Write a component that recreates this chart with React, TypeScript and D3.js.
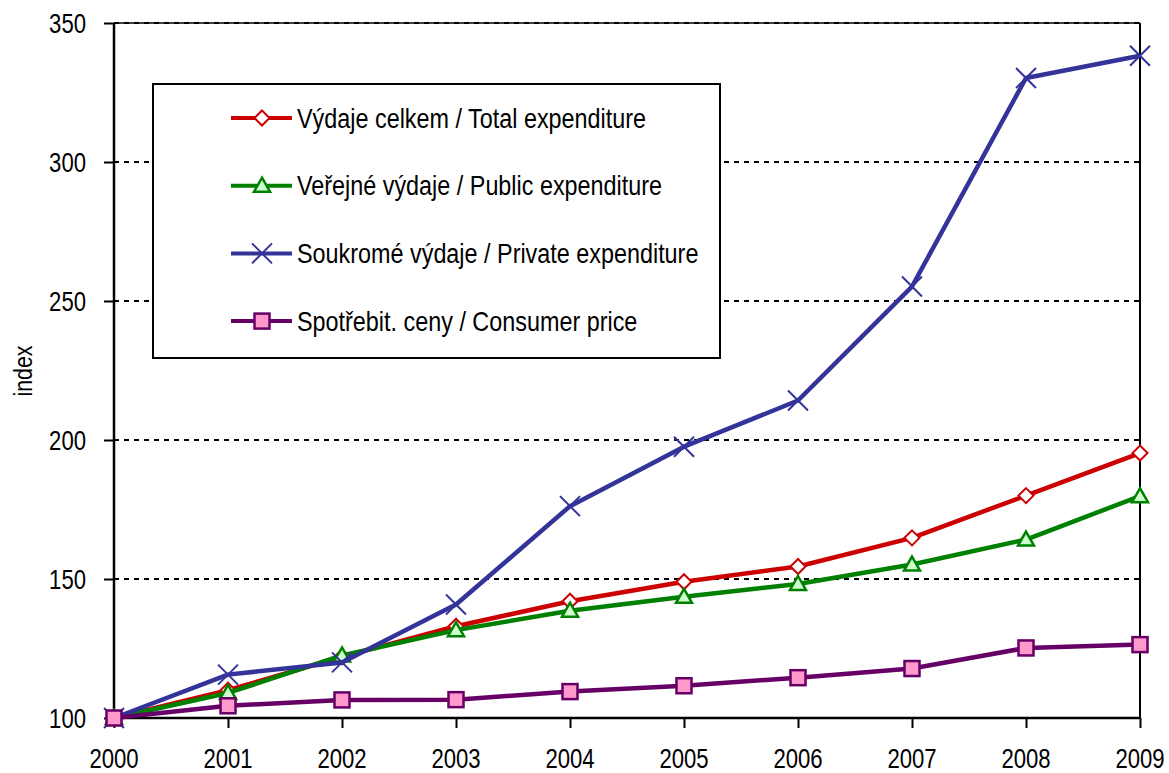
import React, { useRef, useEffect } from 'react';
import * as d3 from 'd3';

const years = ['2000', '2001', '2002', '2003', '2004', '2005', '2006', '2007', '2008', '2009'];
const totalExp = [100, 110, 122, 133, 142, 149, 154.5, 164.8, 180, 195.3];
const publicExp = [100, 109, 122.5, 131.6, 138.6, 143.6, 148.2, 155.2, 164.2, 179.8];
const privateExp = [100, 115.6, 120, 140.8, 176.2, 197.6, 214.2, 255.2, 330.2, 338.2];
const consumerPrice = [100, 104.4, 106.5, 106.6, 109.5, 111.6, 114.5, 117.8, 125.2, 126.4];
const yTicks = [100, 150, 200, 250, 300, 350];

const series = [
  { name: 'Výdaje celkem / Total expenditure', values: totalExp, color: '#CC0000', marker: 'diamond', fill: '#FFFFFF' },
  { name: 'Veřejné výdaje / Public expenditure', values: publicExp, color: '#008000', marker: 'triangle', fill: '#CCFFCC' },
  { name: 'Soukromé výdaje / Private expenditure', values: privateExp, color: '#333399', marker: 'x', fill: 'none' },
  { name: 'Spotřebit. ceny / Consumer price', values: consumerPrice, color: '#660066', marker: 'square', fill: '#FF99CC' },
];

const W = 1169;
const H = 773;
const FONT = '"Liberation Sans", Arial, sans-serif';

function drawMarker(g: any, kind: string, x: number, y: number, color: string, fill: string) {
  if (kind === 'diamond') {
    g.append('path')
      .attr('d', `M${x},${y - 7.5}L${x + 7.5},${y}L${x},${y + 7.5}L${x - 7.5},${y}Z`)
      .attr('fill', fill).attr('stroke', color).attr('stroke-width', 2);
  } else if (kind === 'triangle') {
    g.append('path')
      .attr('d', `M${x},${y - 8}L${x + 8},${y + 6}L${x - 8},${y + 6}Z`)
      .attr('fill', fill).attr('stroke', color).attr('stroke-width', 2.5);
  } else if (kind === 'square') {
    g.append('rect')
      .attr('x', x - 7.5).attr('y', y - 7.5).attr('width', 15).attr('height', 15)
      .attr('fill', fill).attr('stroke', color).attr('stroke-width', 2.5);
  } else {
    g.append('path')
      .attr('d', `M${x - 10},${y - 10}L${x + 10},${y + 10}M${x - 10},${y + 10}L${x + 10},${y - 10}`)
      .attr('fill', 'none').attr('stroke', color).attr('stroke-width', 2);
  }
}

// narrow text: scale horizontally around the anchor point
function label(g: any, x: number, y: number, txt: string, anchor: string, size: number, squeeze = 0.82, rotate = 0) {
  return g.append('text')
    .attr('transform', `translate(${x},${y}) rotate(${rotate}) scale(${squeeze},1)`)
    .attr('text-anchor', anchor)
    .style('font-family', FONT)
    .style('font-size', `${size}px`)
    .attr('fill', '#000')
    .text(txt);
}

const App = () => {
  const svgRef = useRef<SVGSVGElement>(null);

  useEffect(() => {
    const svg = d3.select(svgRef.current);
    svg.selectAll('*').remove();

    const left = 114, right = 1140, top = 23, bottom = 718;

    const x = d3.scalePoint().domain(years).range([left, right]);
    const y = d3.scaleLinear().domain([100, 350]).range([bottom, top]);

    svg.append('rect').attr('width', W).attr('height', H).attr('fill', '#fff');

    // gridlines
    svg.selectAll('.grid')
      .data(yTicks.filter(d => d > 100))
      .enter()
      .append('line')
      .attr('x1', left).attr('x2', right)
      .attr('y1', d => y(d)).attr('y2', d => y(d))
      .attr('stroke', '#000').attr('stroke-width', 2)
      .attr('stroke-dasharray', '5,5');

    // plot border
    svg.append('line').attr('x1', left).attr('x2', right).attr('y1', top).attr('y2', top)
      .attr('stroke', '#000').attr('stroke-width', 1.5);
    svg.append('line').attr('x1', right).attr('x2', right).attr('y1', top).attr('y2', bottom)
      .attr('stroke', '#000').attr('stroke-width', 2);

    // axes (ticks only, labels drawn narrow below)
    const yAxis = svg.append('g')
      .attr('transform', `translate(${left},0)`)
      .call(d3.axisLeft(y).tickValues(yTicks).tickSize(10).tickFormat(() => ''));
    const xAxis = svg.append('g')
      .attr('transform', `translate(0,${bottom})`)
      .call(d3.axisBottom(x).tickSize(10).tickFormat(() => ''));
    [yAxis, xAxis].forEach(a => {
      a.select('.domain').attr('stroke', '#000').attr('stroke-width', 2.5);
      a.selectAll('.tick line').attr('stroke', '#000').attr('stroke-width', 2);
    });
    yAxis.select('.domain').attr('d', `M0,${top}V${bottom}`);
    xAxis.select('.domain').attr('d', `M${left},0H${right}`);

    yTicks.forEach(t => label(svg, 86, y(t) + 9.5, String(t), 'end', 27));
    years.forEach(yr => label(svg, x(yr) as number, 768, yr, 'middle', 27));

    // y axis title
    label(svg, 32, 371, 'index', 'middle', 26, 0.82, -90);

    // legend box
    const lg = svg.append('g');
    lg.append('rect')
      .attr('x', 153).attr('y', 84).attr('width', 567).attr('height', 274)
      .attr('fill', '#fff').attr('stroke', '#000').attr('stroke-width', 2);
    series.forEach((s, i) => {
      const ly = 118 + i * 67.7;
      lg.append('line')
        .attr('x1', 231).attr('x2', 292).attr('y1', ly).attr('y2', ly)
        .attr('stroke', s.color).attr('stroke-width', 4);
      drawMarker(lg, s.marker, 262, ly, s.color, s.fill);
      label(lg, 297, ly + 9.5, s.name, 'start', 27.5, 0.85);
    });

    // series
    const line = d3.line<number>()
      .x((d, i) => x(years[i]) as number)
      .y(d => y(d));
    series.forEach(s => {
      const g = svg.append('g');
      g.append('path')
        .attr('d', line(s.values))
        .attr('fill', 'none')
        .attr('stroke', s.color)
        .attr('stroke-width', 4.5)
        .attr('stroke-linejoin', 'round');
      s.values.forEach((v, i) => drawMarker(g, s.marker, x(years[i]) as number, y(v), s.color, s.fill));
    });
  }, []);

  return (
    <svg
      ref={svgRef}
      width={W}
      height={H}
      style={{ position: 'absolute', left: 0, top: 0, display: 'block' }}
    />
  );
};

export default App;
